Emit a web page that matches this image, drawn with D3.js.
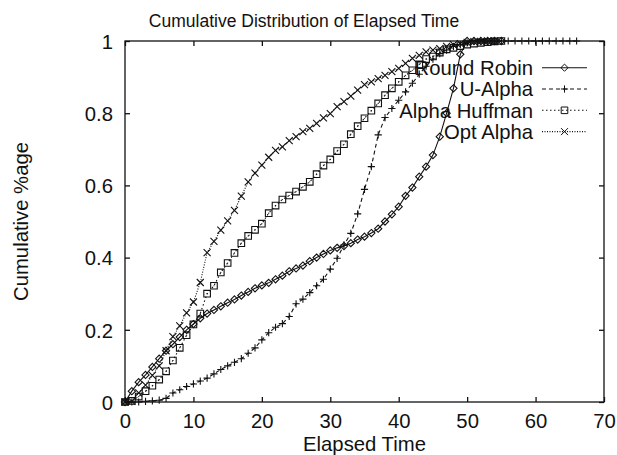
<!DOCTYPE html>
<html>
<head>
<meta charset="utf-8">
<script src="https://cdn.jsdelivr.net/npm/d3@7"></script>
<style>
  body { margin: 0; background: #fff; }
  svg text { font-family: "Liberation Sans", Arial, Helvetica, sans-serif; fill: #111; }
</style>
</head>
<body>
<div id="chart"></div>
<script>
// elapsed time steps (x values shared by all series)
const elapsed = [0,1,2,3,4,5,6,7,8,9,10,11,12,13,14,15,16,17,18,19,20,21,22,23,24,25,26,27,28,29,
  30,31,32,33,34,35,36,37,38,39,40,41,42,43,44,45,46,47,48,49,50,51,52,53,54,55,56,57,58,59,60,
  61,62,63,64,65,66];

// cumulative fraction, one value per elapsed step
const roundRobin = [0,0.03,0.055,0.075,0.097,0.12,0.142,0.16,0.18,0.2,0.216,0.232,0.245,0.255,0.265,
  0.275,0.284,0.295,0.305,0.315,0.323,0.33,0.34,0.35,0.362,0.37,0.378,0.39,0.4,0.41,0.42,0.427,0.432,
  0.44,0.45,0.458,0.468,0.48,0.5,0.52,0.541,0.571,0.594,0.624,0.652,0.684,0.735,0.8,0.869,0.963,1,1,1,1,1,1];
const uAlpha = [0,0,0,0.002,0.003,0.005,0.01,0.025,0.034,0.043,0.05,0.058,0.066,0.078,0.09,0.1,0.11,
  0.12,0.135,0.15,0.172,0.192,0.207,0.217,0.237,0.272,0.285,0.303,0.322,0.34,0.368,0.398,0.435,0.467,
  0.521,0.589,0.652,0.74,0.788,0.813,0.836,0.859,0.883,0.908,0.93,0.95,0.965,0.975,0.985,0.99,0.995,
  1,1,1,1,1,1,1,1,1,1,1,1,1,1,1,1];
const alphaHuffman = [0,0.003,0.015,0.03,0.045,0.062,0.085,0.115,0.15,0.185,0.215,0.245,0.3,0.322,
  0.359,0.385,0.413,0.44,0.46,0.477,0.494,0.523,0.544,0.561,0.572,0.583,0.596,0.61,0.631,0.655,0.672,
  0.695,0.714,0.742,0.764,0.786,0.807,0.827,0.85,0.869,0.887,0.905,0.919,0.935,0.95,0.957,0.968,0.977,
  0.981,0.986,0.99,0.993,0.995,0.997,0.999,1];
const optAlpha = [0,0.002,0.025,0.047,0.074,0.1,0.142,0.181,0.211,0.247,0.277,0.331,0.414,0.445,0.476,
  0.502,0.531,0.57,0.61,0.634,0.656,0.678,0.697,0.707,0.724,0.735,0.749,0.758,0.772,0.787,0.799,0.818,
  0.832,0.847,0.864,0.879,0.887,0.896,0.905,0.915,0.924,0.938,0.952,0.96,0.97,0.975,0.979,0.985,0.99,
  0.993,0.996,0.998,0.999,1,1];

const seriesNames = ["Round Robin", "U-Alpha", "Alpha Huffman", "Opt Alpha"];
const xTicks = [0,10,20,30,40,50,60,70];
const yTicks = [0,0.2,0.4,0.6,0.8,1];

const width = 617, height = 455,
  margin = ({ top: 41, right: 13, bottom: 53, left: 125 });

const svg = d3.select("#chart")
  .append("svg")
  .attr("width", width)
  .attr("height", height);

let x = d3.scaleLinear()
  .domain([0, 70])
  .range([margin.left, width - margin.right]);

let y = d3.scaleLinear()
  .domain([0, 1])
  .range([height - margin.bottom, margin.top]);

// marker shapes, gnuplot style
const marks = {
  diamond: r => `M0,${-r}L${r},0L0,${r}L${-r},0Z`,
  plus: r => `M${-r},0H${r}M0,${-r}V${r}`,
  square: r => `M${-r},${-r}H${r}V${r}H${-r}Z`,
  cross: r => `M${-r},${-r}L${r},${r}M${-r},${r}L${r},${-r}`
};

const series = [
  { name: seriesNames[0], values: roundRobin, dash: null, mark: "diamond", r: 3.6 },
  { name: seriesNames[1], values: uAlpha, dash: "4,3", mark: "plus", r: 3.6 },
  { name: seriesNames[2], values: alphaHuffman, dash: "1.5,2.5", mark: "square", r: 3.3 },
  { name: seriesNames[3], values: optAlpha, dash: "1,1.5", mark: "cross", r: 3.5 }
];

// frame
svg.append("rect")
  .attr("x", x(0)).attr("y", y(1))
  .attr("width", x(70) - x(0)).attr("height", y(0) - y(1))
  .attr("fill", "none").attr("stroke", "#111").attr("stroke-width", 1.3);

// ticks pointing inward on all sides
const tickLen = 5;
let gx = svg.append("g").attr("transform", `translate(0,${y(0)})`)
  .call(d3.axisBottom(x).tickValues(xTicks).tickSizeInner(-tickLen).tickSizeOuter(0).tickPadding(26));
let gxTop = svg.append("g").attr("transform", `translate(0,${y(1)})`)
  .call(d3.axisTop(x).tickValues(xTicks).tickSizeInner(-tickLen).tickSizeOuter(0).tickFormat(""));
let gy = svg.append("g").attr("transform", `translate(${x(0)},0)`)
  .call(d3.axisLeft(y).tickValues(yTicks).tickSizeInner(-tickLen).tickSizeOuter(0).tickPadding(12)
    .tickFormat(d => d3.format("")(d)));
let gyRight = svg.append("g").attr("transform", `translate(${x(70)},0)`)
  .call(d3.axisRight(y).tickValues(yTicks).tickSizeInner(-tickLen).tickSizeOuter(0).tickFormat(""));

[gx, gxTop, gy, gyRight].forEach(g => {
  g.select(".domain").remove();
  g.selectAll(".tick line").attr("stroke", "#111").attr("stroke-width", 1.3);
  g.selectAll("text").attr("font-size", "20.3px").attr("fill", "#111")
    .style("font-family", '"Liberation Sans", Arial, sans-serif');
});
gx.selectAll("text").attr("dy", null).attr("y", 26);
gy.selectAll("text").attr("dy", "0.36em");

// lines and markers
let line = d3.line()
  .x((d, i) => x(elapsed[i]))
  .y(d => y(d));

for (let s of series) {
  let g = svg.append("g").attr("class", "series");
  g.append("path")
    .datum(s.values)
    .attr("fill", "none")
    .attr("stroke", "#111")
    .attr("stroke-width", 1.1)
    .attr("stroke-dasharray", s.dash)
    .attr("d", line);

  g.selectAll("path.mark")
    .data(s.values)
    .join("path")
    .attr("class", "mark")
    .attr("transform", (d, i) => `translate(${x(elapsed[i])},${y(d)})`)
    .attr("d", marks[s.mark](s.r))
    .attr("fill", "none")
    .attr("stroke", "#111")
    .attr("stroke-width", 1.1);

  if (s.mark === "square") {
    g.selectAll("circle.dot")
      .data(s.values)
      .join("circle")
      .attr("class", "dot")
      .attr("cx", (d, i) => x(elapsed[i]))
      .attr("cy", d => y(d))
      .attr("r", 0.6)
      .attr("fill", "#111");
  }
}

// legend, top right inside the frame
const legend = svg.append("g");
series.forEach((s, i) => {
  let ly = 67.7 + i * 21.3;
  legend.append("text")
    .attr("x", 533).attr("y", ly)
    .attr("dy", "0.36em")
    .attr("text-anchor", "end")
    .attr("font-size", "20.3px")
    .text(s.name);
  legend.append("line")
    .attr("x1", 542).attr("x2", 587)
    .attr("y1", ly).attr("y2", ly)
    .attr("stroke", "#111").attr("stroke-width", 1.1)
    .attr("stroke-dasharray", s.dash);
  legend.append("path")
    .attr("transform", `translate(564.5,${ly})`)
    .attr("d", marks[s.mark](s.r))
    .attr("fill", "none").attr("stroke", "#111");
});

// titles
svg.append("text")
  .attr("x", 304).attr("y", 26.5)
  .attr("text-anchor", "middle")
  .attr("font-size", "17.5px")
  .text("Cumulative Distribution of Elapsed Time");

svg.append("text")
  .attr("x", (x(0) + x(70)) / 2).attr("y", 450.5)
  .attr("text-anchor", "middle")
  .attr("font-size", "20.3px")
  .text("Elapsed Time");

svg.append("text")
  .attr("transform", `translate(28,${(y(0) + y(1)) / 2}) rotate(-90)`)
  .attr("text-anchor", "middle")
  .attr("font-size", "20.3px")
  .text("Cumulative %age");
</script>
</body>
</html>
